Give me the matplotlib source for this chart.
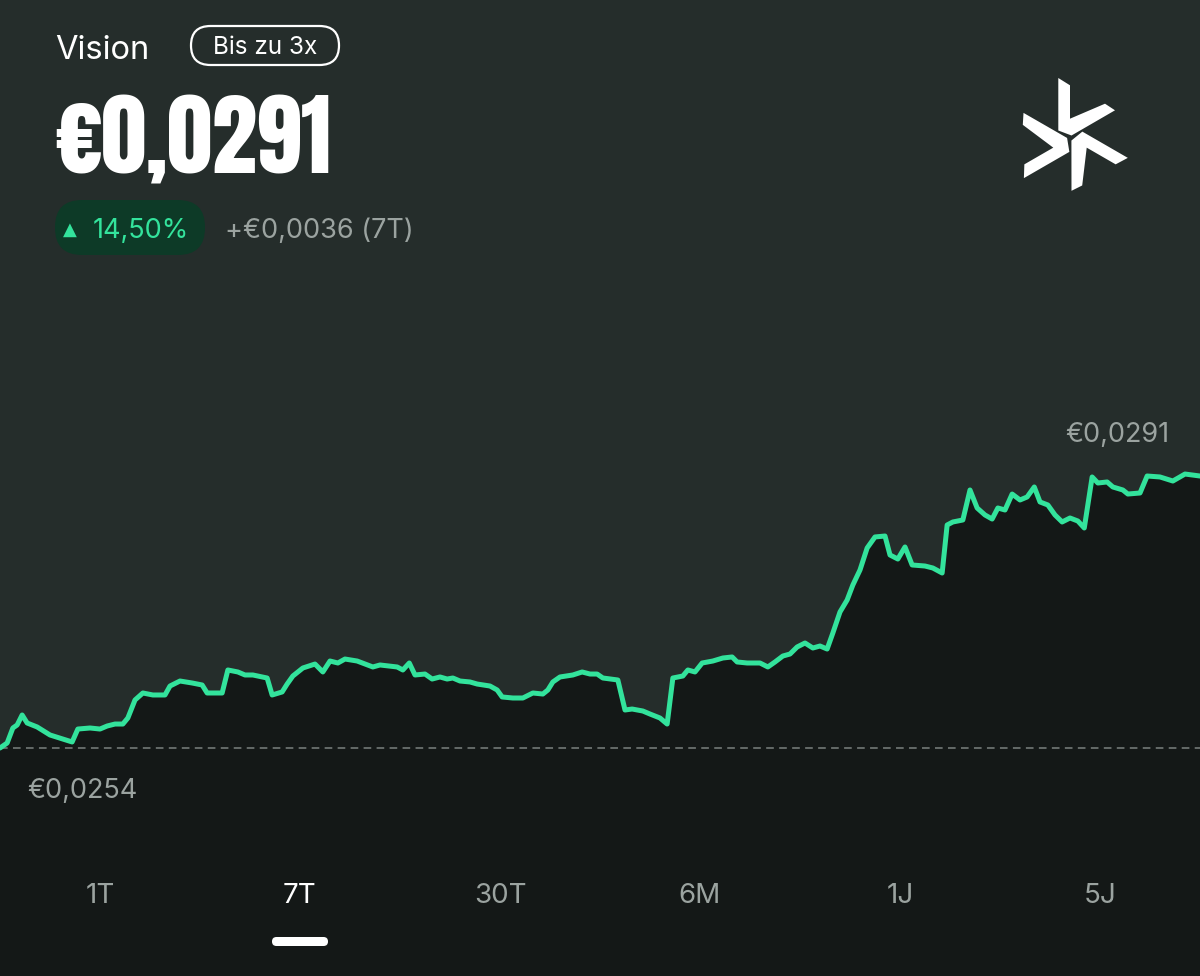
import matplotlib.pyplot as plt
from matplotlib.patches import FancyBboxPatch, Polygon
import numpy as np

# 7 day price history (hours since start, price in EUR)
hours = [0.0, 1.0, 1.8, 2.4, 3.1, 3.8, 5.2, 7.0, 10.1, 10.9, 12.6, 14.0, 15.0, 16.1,
         17.2, 17.9, 18.9, 20.0, 21.4, 23.1, 23.8, 25.2, 26.9, 28.3, 29.0, 31.1, 31.9,
         33.3, 34.3, 35.4, 37.4, 38.1, 39.5, 40.2, 41.0, 42.4, 44.1, 45.2, 46.2, 47.3,
         48.3, 50.0, 52.2, 53.2, 55.6, 56.4, 57.3, 58.1, 59.5, 60.5, 61.6, 62.6, 63.4,
         64.4, 65.8, 66.8, 68.6, 69.6, 70.3, 71.8, 73.2, 74.6, 76.0, 76.7, 77.4, 78.4,
         80.2, 81.5, 82.6, 83.6, 84.4, 86.5, 87.5, 88.5, 90.0, 91.0, 92.4, 93.4, 94.2,
         95.6, 96.3, 97.3, 98.3, 99.8, 101.2, 102.5, 103.2, 104.6, 106.4, 107.5, 108.5,
         109.6, 110.6, 111.6, 112.7, 113.8, 114.8, 115.8, 116.6, 117.6, 118.6, 119.4,
         120.4, 121.4, 122.5, 123.9, 124.6, 125.7, 126.7, 127.7, 129.5, 130.6, 131.9,
         132.6, 133.4, 134.8, 135.8, 136.8, 137.9, 138.9, 139.7, 140.7, 141.7, 142.8,
         143.8, 144.8, 145.6, 146.7, 147.7, 148.7, 149.8, 150.9, 151.8, 152.9, 153.7,
         155.0, 155.8, 157.2, 157.9, 159.6, 160.6, 162.4, 164.2, 165.9, 168.0]
price = [0.025400, 0.025468, 0.025672, 0.025713, 0.025849, 0.025740, 0.025686, 0.025577,
         0.025482, 0.025658, 0.025672, 0.025658, 0.025699, 0.025726, 0.025726, 0.025808,
         0.026053, 0.026148, 0.026121, 0.026121, 0.026243, 0.026311, 0.026284, 0.026257,
         0.026148, 0.026148, 0.026461, 0.026434, 0.026393, 0.026393, 0.026352, 0.026121,
         0.026162, 0.026270, 0.026379, 0.026488, 0.026542, 0.026434, 0.026583, 0.026556,
         0.026610, 0.026583, 0.026502, 0.026529, 0.026502, 0.026461, 0.026556, 0.026393,
         0.026406, 0.026338, 0.026366, 0.026338, 0.026352, 0.026311, 0.026298, 0.026270,
         0.026243, 0.026189, 0.026094, 0.026080, 0.026080, 0.026148, 0.026134, 0.026189,
         0.026298, 0.026366, 0.026393, 0.026434, 0.026406, 0.026406, 0.026352, 0.026325,
         0.025917, 0.025930, 0.025903, 0.025862, 0.025808, 0.025726, 0.026352, 0.026379,
         0.026461, 0.026434, 0.026556, 0.026583, 0.026624, 0.026638, 0.026570, 0.026556,
         0.026556, 0.026502, 0.026570, 0.026651, 0.026678, 0.026774, 0.026828, 0.026760,
         0.026787, 0.026746, 0.026964, 0.027250, 0.027413, 0.027617, 0.027821, 0.028120,
         0.028270, 0.028283, 0.028025, 0.027970, 0.028134, 0.027889, 0.027875, 0.027848,
         0.027780, 0.028433, 0.028474, 0.028501, 0.028909, 0.028664, 0.028569, 0.028514,
         0.028664, 0.028637, 0.028854, 0.028773, 0.028814, 0.028950, 0.028746, 0.028705,
         0.028569, 0.028474, 0.028528, 0.028487, 0.028392, 0.029086, 0.029004, 0.029018,
         0.028950, 0.028909, 0.028854, 0.028868, 0.029099, 0.029086, 0.029031, 0.029126,
         0.029099]

start_price = 0.0254
start_label = '€0,0254'
last_label = '€0,0291'
asset = 'Vision'
leverage = 'Bis zu 3x'
big_price = '€0,0291'
change_pct = '14,50%'
change_abs = '+€0,0036 (7T)'
tabs = ['1T', '7T', '30T', '6M', '1J', '5J']
active_tab = '7T'

BG_TOP = '#252d2b'
BG_LOW = '#141817'
GREEN = '#33e39c'
GREY = '#9ba3a0'

fig = plt.figure(figsize=(12, 9.76), dpi=100)
fig.patch.set_facecolor(BG_TOP)

# chart, full bleed
ax = fig.add_axes([0, 0, 1, 1])
ymin, ymax = 0.0222992, 0.0355728
ax.set_xlim(0, 168)
ax.set_ylim(ymin, ymax)
ax.fill_between(hours, price, ymin, color=BG_LOW, lw=0)
ax.axhline(start_price, color='#7b817f', lw=1.1, ls=(0, (5, 3.5)), zorder=2)
ax.plot(hours, price, color=GREEN, lw=3.6, solid_joinstyle='round',
        solid_capstyle='round', zorder=3)
ax.axis('off')

# overlay in pixel coordinates for header / tabs
ov = fig.add_axes([0, 0, 1, 1])
ov.set_xlim(0, 1200)
ov.set_ylim(976, 0)
ov.axis('off')

ui = ['Inter', 'DejaVu Sans']
ov.text(55, 59, asset, color='white', fontsize=23.5, family=ui, va='baseline')
ov.add_patch(FancyBboxPatch((191, 26), 148, 39, boxstyle='round,pad=0,rounding_size=19.5',
                            fc='none', ec='white', lw=1.6))
ov.text(265, 54, leverage, color='white', fontsize=17.5, family=ui, ha='center', va='baseline')

ov.text(54, 173, big_price, color='white', fontsize=65,
        family=['Anton', 'Oswald', 'DejaVu Sans'], va='baseline')

ov.add_patch(FancyBboxPatch((55, 200), 150, 55, boxstyle='round,pad=0,rounding_size=27',
                            fc='#0d3a27', ec='none'))
ov.text(63, 235, '▲', color=GREEN, fontsize=13, family=['DejaVu Sans'], va='baseline')
ov.text(93, 238, change_pct, color=GREEN, fontsize=19.5, family=ui, va='baseline')
ov.text(225, 238, change_abs, color=GREY, fontsize=19.5, family=ui, va='baseline')

ov.text(1169, 442, last_label, color=GREY, fontsize=19.5, family=ui, ha='right', va='baseline')
ov.text(27, 798, start_label, color=GREY, fontsize=19.5, family=ui, va='baseline')

# logo: three rotated chevrons around its centre
arm = np.array([(-11.7, -60), (0, -52.7), (0, -19.3), (35, -34.3), (45, -27.7),
                (1.5, -2.5), (-11.7, -7.5)])
cx, cy = 1070, 138
for k in range(3):
    t = np.deg2rad(120 * k)
    rot = np.array([[np.cos(t), -np.sin(t)], [np.sin(t), np.cos(t)]])
    pts = arm @ rot.T + (cx, cy)
    ov.add_patch(Polygon(pts, closed=True, fc='white', ec='none'))

for i, lab in enumerate(tabs):
    col = 'white' if lab == active_tab else GREY
    ov.text(100 + 200 * i, 903, lab, color=col, fontsize=20, family=ui,
            ha='center', va='baseline')
    if lab == active_tab:
        ov.add_patch(FancyBboxPatch((272 + 200 * (i - 1), 937), 56, 9,
                                    boxstyle='round,pad=0,rounding_size=4.5',
                                    fc='white', ec='none'))

fig.savefig('out.png', dpi=100, facecolor=fig.get_facecolor())
